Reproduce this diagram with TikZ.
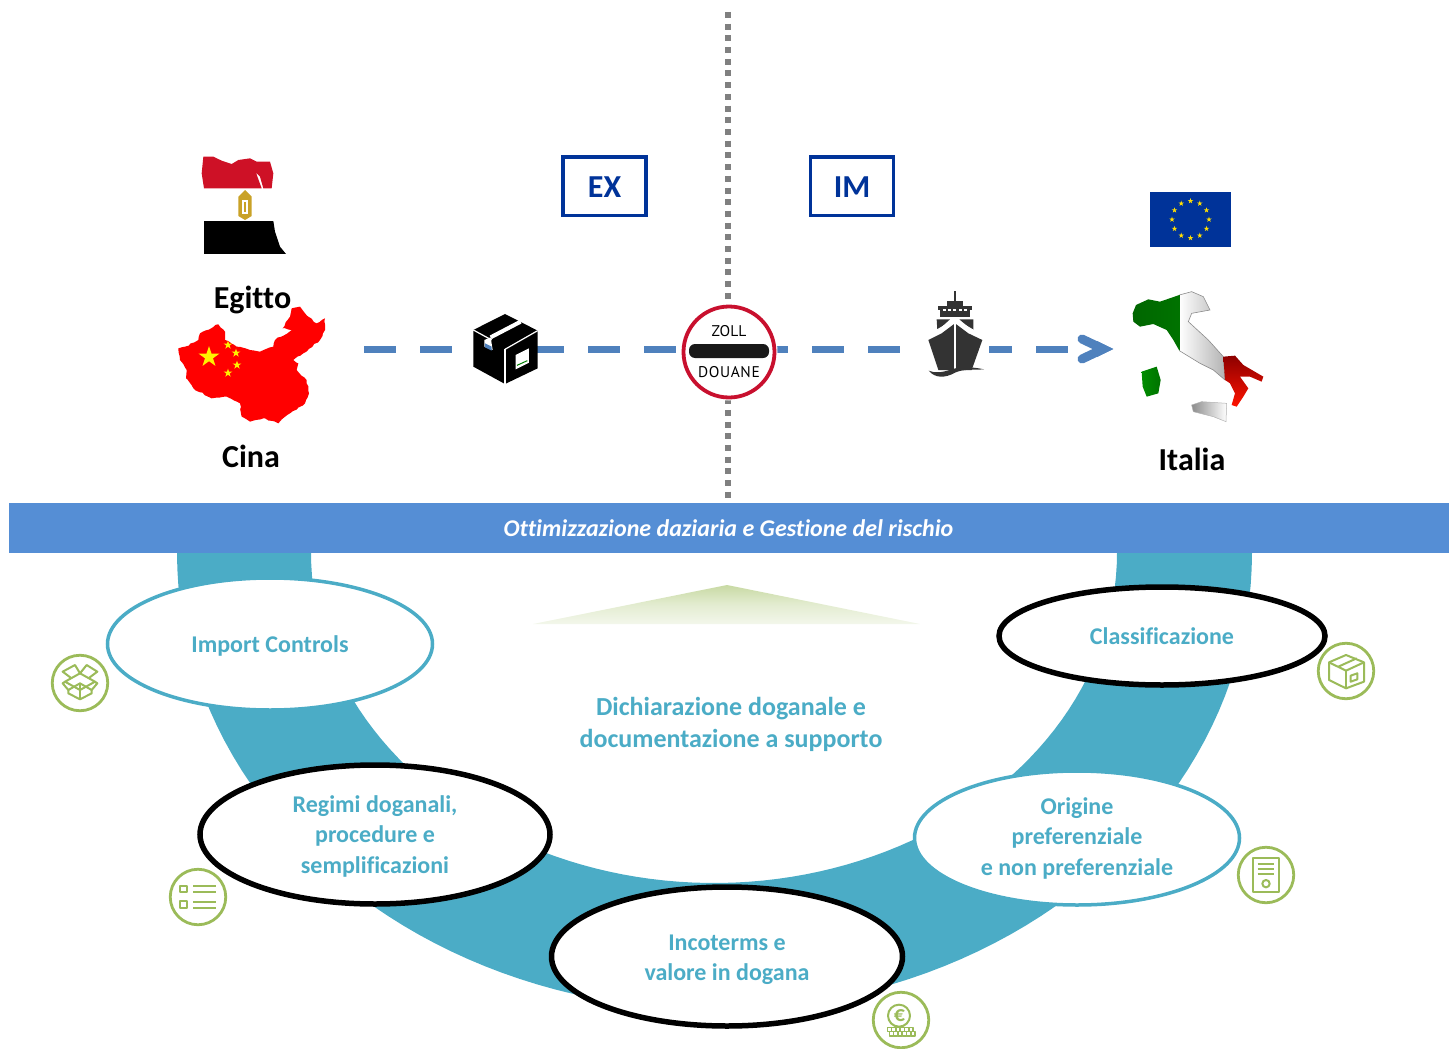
\documentclass[tikz,border=0pt]{standalone}
\usepackage{fontspec}
\setmainfont[Ligatures=NoCommon]{Carlito}
\newfontfamily\signfont{PT Sans}
\usetikzlibrary{shapes.geometric,calc,decorations.pathmorphing}
\definecolor{teal1}{HTML}{4BACC6}
\definecolor{band}{HTML}{558ED5}
\definecolor{flow}{HTML}{4F81BD}
\definecolor{navy}{HTML}{003399}
\definecolor{icong}{HTML}{9BBB59}
\definecolor{eured}{HTML}{CE1126}
\definecolor{signred}{HTML}{C8102E}
\definecolor{gold}{HTML}{C9A227}
\newcommand{\starshape}[3]{\fill[#3,shift={(#1)}] (-90:#2) -- (54:#2) -- (198:#2) -- (-18:#2) -- (126:#2) -- cycle;}
\tikzset{
  ovalteal/.style={ellipse,draw=teal1,line width=3.5pt,fill=white,inner sep=0pt,align=center,text=teal1,font=\fontsize{24}{30.5}\selectfont\bfseries},
  ovalblack/.style={ellipse,draw=black,line width=5.5pt,fill=white,inner sep=0pt},
  ovaltext/.style={inner sep=0pt,align=center,text=teal1,font=\fontsize{24}{30.5}\selectfont\bfseries},
  country/.style={font=\fontsize{32}{34}\selectfont\bfseries,text=black,inner sep=0pt},
  tagbox/.style={draw=navy,line width=3.5pt,fill=white,inner sep=0pt,minimum width=83pt,minimum height=58.5pt},
  tagtext/.style={text=navy,font=\fontsize{32}{34}\selectfont\bfseries,inner sep=0pt},
  iconring/.style={circle,draw=icong,line width=2.8pt,fill=white,minimum size=55.5pt,inner sep=0pt},
  iconline/.style={draw=icong,line width=2pt,line join=round},
  flowline/.style={draw=flow,line width=7pt,dash pattern=on 32pt off 24pt},
  signtext/.style={font=\signfont\fontsize{15.5}{16}\selectfont,inner sep=0pt,text=black},
  zoomA/.style={shift={(#1)},scale=0.33333},
  rough/.style={decorate,decoration={random steps,segment length=3.5pt,amplitude=0.8pt}}
}
\begin{document}
\begin{tikzpicture}[x=1pt,y=-1pt]
\useasboundingbox (0,0) rectangle (1449,1049);
% named anchors
\coordinate (dotTop) at (728,12);
\coordinate (dotBot) at (728,501);
\coordinate (flowA) at (364,349);
\coordinate (flowB) at (1068,349);
% vertical customs line and flow
\draw[draw=black!50,line width=6pt,dash pattern=on 6pt off 5.7pt] (dotTop) -- (dotBot);
\draw[flowline] (flowA) -- (flowB);
\draw[flow,line width=9pt,line cap=round,line join=miter] (1082,339) -- (1103,349) -- (1082,359);
\fill[flow] (1097,341) -- (1113,349) -- (1097,357) -- cycle;
% band and ring
\fill[teal1,even odd rule] plot[domain=0:180,samples=90] ({714.5+537.5*cos(\x)},{553+457*sin(\x)}) -- plot[domain=180:0,samples=90] ({714+403*cos(\x)},{553+330*sin(\x)}) -- cycle;
\node[fill=band,minimum width=1440pt,minimum height=50pt,inner sep=0pt,anchor=north west] (bandnode) at (9,503) {};
\node[text=white,font=\fontsize{24}{26}\selectfont\bfseries\itshape,inner sep=0pt] (bandtext) at (728.5,528.5) {Ottimizzazione daziaria e Gestione del rischio};
% green triangle
\shade[top color=icong!55!white,bottom color=icong!12!white,middle color=icong!28!white] (533,624) -- (727,585) -- (920,624) -- cycle;
% central text
\node[text=teal1,align=center,inner sep=0pt,font=\fontsize{26}{32}\selectfont\bfseries] (central) at (731,724.5) {Dichiarazione doganale e\\documentazione a supporto};
% ovals
\node[ovalteal,minimum width=325pt,minimum height=132pt,text depth=0pt] (imp) at (270,644) {Import Controls};
\node[ovalblack,minimum width=326pt,minimum height=98pt] (cla) at (1162,636) {};
\node[ovaltext] (claT) at (1162,636) {Classificazione};
\node[ovalblack,minimum width=350pt,minimum height=139pt] (reg) at (375,834.5) {};
\node[ovaltext] (regT) at (375,836) {Regimi doganali,\\procedure e\\semplificazioni};
\node[ovalteal,minimum width=325pt,minimum height=134pt] (ori) at (1077,838) {Origine\\preferenziale\\e non preferenziale};
\node[ovalblack,minimum width=351pt,minimum height=139pt] (inc) at (727,956.5) {};
\node[ovaltext] (incT) at (727,959.5) {Incoterms e\\valore in dogana};
% tags
\node[tagbox] (ex) at (604.5,186) {};
\node[tagtext] (exT) at (604.5,187) {EX};
\node[tagbox] (im) at (852,186) {};
\node[tagtext] (imT) at (852,187) {IM};
% labels
\node[country] (egitto) at (252.5,299.5) {Egitto};
\node[country] (cina) at (251,456) {Cina};
\node[country] (italia) at (1192,459) {Italia};
% Egypt
\begin{scope}[zoomA={150,140}]
\fill[eured] (160,50) -- (190,50) -- (215,62) -- (245,72) -- (265,60) -- (300,55) -- (320,65) -- (360,65) -- (370,100) -- (365,145) -- (340,145) -- (330,110) -- (318,98) -- (335,145) -- (162,145) -- (155,100) -- cycle;
\fill[black] (162,243) -- (370,243) -- (375,275) -- (390,320) -- (408,342) -- (162,342) -- cycle;
\fill[gold] (265,170) -- (285,150) -- (305,170) -- (305,228) -- (285,240) -- (265,228) -- cycle;
\fill[white] (275,180) rectangle (295,222);
\fill[gold] (282,185) rectangle (288,215);
% China
\fill[red,rough] (85,625) -- (105,620) -- (145,600) -- (150,580) -- (205,553) -- (225,575) -- (225,600) -- (260,620) -- (300,630) -- (330,635) -- (370,620) -- (375,600) -- (425,570) -- (398,565) -- (420,530) -- (425,505) -- (450,500) -- (475,530) -- (500,550) -- (525,535) -- (525,570) -- (510,600) -- (460,640) -- (430,660) -- (445,670) -- (440,690) -- (470,720) -- (477,760) -- (465,790) -- (420,820) -- (385,850) -- (340,835) -- (300,845) -- (275,830) -- (270,790) -- (230,770) -- (185,775) -- (130,745) -- (108,715) -- (110,690) -- (90,660) -- cycle;
% package
\fill[black] (970,570) -- (1065,522) -- (1163,572) -- (1163,685) -- (1065,732) -- (970,680) -- cycle;
\draw[white,line width=1.2pt] (1065,628) -- (1163,572);
\draw[white,line width=1.2pt] (1065,628) -- (1065,732);
\draw[white,line width=1.2pt] (970,570) -- (1025,600);
\draw[white,line width=4pt] (1022,592) -- (1112,545);
\fill[white] (1022,592) -- (1003,600) -- (1003,620) -- (1028,630) -- cycle;
\fill[flow] (1005,610) -- (1025,620) -- (1025,632) -- (1005,622) -- cycle;
\fill[white] (1097,645) -- (1137,625) -- (1137,668) -- (1097,688) -- cycle;
\draw[green!50!black,line width=1pt] (1101,676) -- (1132,662);
\end{scope}
\starshape{209,357}{11}{yellow}
\starshape{228,345}{4.5}{yellow}
\starshape{236,353}{4.5}{yellow}
\starshape{237,365}{4.5}{yellow}
\starshape{228,373}{4.5}{yellow}
% EU flag
\fill[navy] (1150,192) rectangle (1231,247);
\foreach \a in {0,30,...,330}{\starshape{$(1190.5,219.5)+(\a:18.5)$}{2.9}{yellow!80!orange}}
% Italy
\begin{scope}[zoomA={1060,180}]
\draw[black!45,line width=0.6pt,left color=white,right color=black!30] (358,345) -- (395,335) -- (430,350) -- (450,390) -- (395,400) -- (385,425) -- (445,480) -- (490,530) -- (495,600) -- (460,570) -- (420,550) -- (358,512) -- cycle;
\shade[left color=green!40!black,right color=green!45!black] (218,400) -- (228,375) -- (265,358) -- (300,365) -- (358,345) -- (358,512) -- (340,480) -- (320,450) -- (280,432) -- (240,440) -- (220,425) -- cycle;
\shade[top color=red!55!black,bottom color=red!85!orange] (490,530) -- (525,527) -- (550,555) -- (610,590) -- (605,605) -- (570,590) -- (540,590) -- (565,625) -- (550,650) -- (530,680) -- (515,675) -- (525,640) -- (510,610) -- (495,600) -- cycle;
\shade[left color=green!55!black,right color=green!45!black] (245,575) -- (290,560) -- (302,600) -- (295,640) -- (260,650) -- (248,620) -- cycle;
\draw[black!30,line width=0.5pt,left color=black!45,right color=white] (395,675) -- (425,665) -- (500,670) -- (498,725) -- (460,710) -- (400,695) -- cycle;
\end{scope}
% customs sign
\node[circle,fill=white,minimum size=97pt,inner sep=0pt] (signbg) at (729,352) {};
\node[circle,draw=signred,line width=3.8pt,fill=white,minimum size=91pt,inner sep=0pt] (sign) at (729,352) {};
\fill[black!90,rounded corners=6pt] (689,344) rectangle (769,358);
\node[signtext] (zoll) at (729,331) {ZOLL};
\node[signtext] (douane) at (729,372) {D\kern0.6pt O\kern0.6pt U\kern0.6pt A\kern0.6pt N\kern0.6pt E};
% ship
\fill[white] (923,340) rectangle (989,358);
\begin{scope}[zoomA={640,280}]
\fill[black!80] (941,32) rectangle (949,65);
\fill[black!80] (920,62) rectangle (970,80);
\fill[black!80] (893,78) rectangle (995,90);
\fill[black!80] (900,90) rectangle (990,110);
\foreach \q in {908,924,940,956,972}{\fill[white] (\q,88) rectangle (\q+9,93);}
\fill[black!80] (890,118) -- (930,118) -- (900,145) -- (892,150) -- cycle;
\fill[black!80] (1000,118) -- (958,118) -- (990,145) -- (1000,150) -- cycle;
\fill[black!80] (945,130) -- (985,160) -- (1027,180) -- (995,270) -- (895,270) -- (865,180) -- (905,160) -- cycle;
\draw[white,line width=1.4pt] (945,125) -- (945,272);
\draw[white,line width=1.2pt] (888,152) -- (945,118) -- (1002,152);
\fill[black!80] (866,272) .. controls (885,280) and (905,278) .. (935,268) .. controls (965,258) and (1005,262) .. (1032,268) .. controls (1005,270) and (970,266) .. (945,278) .. controls (915,295) and (885,295) .. (866,272) -- cycle;
\end{scope}
% icons
\node[iconring] (ic1) at (80,683) {};
\node[iconring] (ic2) at (198,897) {};
\node[iconring] (ic3) at (1346,671) {};
\node[iconring] (ic4) at (1266,875) {};
\node[iconring] (ic5) at (901,1020) {};
\begin{scope}[zoomA={40,640}]
\draw[iconline] (120,100) -- (75,125) -- (120,150) -- (165,125) -- cycle;
\draw[iconline] (120,100) -- (105,75) -- (68,95) -- (92,113);
\draw[iconline] (120,100) -- (140,75) -- (172,95) -- (148,113);
\draw[iconline] (75,125) -- (68,130) -- (85,150) -- (120,130) -- (155,150) -- (172,130) -- (165,125);
\draw[iconline] (85,150) -- (85,160) -- (120,178) -- (155,160) -- (155,150);
\draw[iconline] (120,130) -- (120,178);
\draw[iconline] (420,737) rectangle (442,757);
\draw[iconline] (420,783) rectangle (442,803);
\draw[iconline] (460,738) -- (527,738);
\draw[iconline] (460,755) -- (527,755);
\draw[iconline] (460,785) -- (527,785);
\draw[iconline] (460,803) -- (527,803);
\end{scope}
\begin{scope}[zoomA={1220,630}]
\draw[iconline] (327,97) -- (378,75) -- (432,97) -- (432,155) -- (378,175) -- (327,150) -- cycle;
\draw[iconline] (327,97) -- (378,122) -- (432,97);
\draw[iconline] (378,122) -- (378,175);
\draw[iconline] (355,110) -- (410,85);
\draw[iconline] (392,137) -- (412,130) -- (412,148) -- (392,155) -- cycle;
\draw[iconline] (100,683) rectangle (176,787);
\draw[iconline] (113,703) -- (163,703);
\draw[iconline] (113,717) -- (163,717);
\draw[iconline] (113,731) -- (163,731);
\draw[iconline] (138,761) circle[radius=11];
\end{scope}
\begin{scope}[zoomA={860,980}]
\draw[iconline] (117,107) circle[radius=33];
\foreach \q in {82,95,108,121,134,147}{\draw[iconline,line width=1.6pt] (\q,143) rectangle (\q+12,155);}
\foreach \q in {88,101,114,127,140,153}{\draw[iconline,line width=1.6pt] (\q,155) rectangle (\q+12,168);}
\end{scope}
\node[text=icong,inner sep=0pt,font=\fontsize{22}{22}\selectfont\bfseries] (euro) at (899.5,1015.5) {€};
\end{tikzpicture}
\end{document}
